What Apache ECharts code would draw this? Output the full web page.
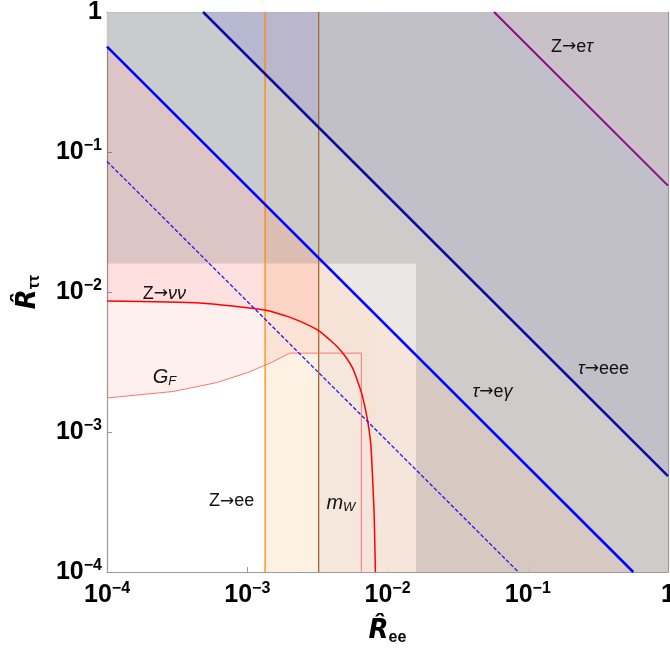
<!DOCTYPE html>
<html>
<head>
<meta charset="utf-8">
<script src="https://cdn.jsdelivr.net/npm/echarts@6/dist/echarts.min.js"></script>
<style>
html, body { margin: 0; padding: 0; background: #fff; }
#graph1 { width: 670px; height: 656px; }
</style>
</head>
<body>
<div id="graph1"></div>
<script>
// log-log plane, both axes 1e-4 .. 1
var axisMin = 1e-4, axisMax = 1;

// boundaries, as [R_ee, R_tautau]
var zNuNu = [[1e-4, 8.63e-3], [4.6e-4, 8.34e-3], [1.33e-3, 7.43e-3], [2.0e-3, 6.61e-3],
    [3.17e-3, 5.36e-3], [3.89e-3, 4.54e-3], [4.47e-3, 3.98e-3], [5.1e-3, 3.38e-3],
    [5.62e-3, 2.88e-3], [6.0e-3, 2.44e-3], [6.61e-3, 1.82e-3], [7.2e-3, 1.22e-3],
    [7.59e-3, 8.3e-4], [7.8e-3, 5.1e-4], [8.04e-3, 2.5e-4], [8.2e-3, 1e-4]];
var gF = [[1e-4, 1.75e-3], [3e-4, 1.95e-3], [6e-4, 2.25e-3], [1e-3, 2.65e-3],
    [1.5e-3, 3.15e-3], [2.01e-3, 3.66e-3], [6.51e-3, 3.66e-3], [6.51e-3, 1e-4]];
var zEtau = [[0.0575, 1], [1, 0.0575]];
var tauEee = [[4.84e-4, 1], [1, 4.84e-4]];
var tauEgamma = [[1e-4, 0.565], [0.565, 1e-4]];
var tauEgammaDashed = [[1e-4, 0.0857], [0.0857, 1e-4]];
var zEeLow = 1.34e-3;
var zEeHigh = 3.23e-3;
var squareEdge = 0.016;

// annotation texts and where they sit (data coords)
var labelTexts = ['{t|Z}{a|→}{t|e}{g|τ}', '{g|τ}{a|→}{t|eee}', '{g|τ}{a|→}{t|e}{g|γ}', '{t|Z}{a|→}{g|νν}',
    '{i|G}{sub|F}', '{t|Z}{a|→}{t|ee}', '{i|m}{sub|W}'];
var labelX = [0.207, 0.347, 0.0561, 2.57e-4, 2.57e-4, 7.73e-4, 4.65e-3];
var labelY = [0.562, 2.82e-3, 1.93e-3, 9.7e-3, 2.47e-3, 3.21e-4, 3.11e-4];

// ---- shaded regions, built from the boundaries ----
var cEgamma = tauEgamma[0][0] * tauEgamma[0][1];
var cEee = tauEee[0][0] * tauEee[0][1];
var regions = [
    [gF.concat([[1, 1e-4], [1, 1], [1e-4, 1]]), 'rgba(255,0,0,0.06)'],
    [zNuNu.concat([[zNuNu[zNuNu.length - 1][0], 1], [1e-4, 1]]), 'rgba(255,0,0,0.065)'],
    [[[zEeLow, 1e-4], [1, 1e-4], [1, 1], [zEeLow, 1]], 'rgba(240,128,0,0.11)'],
    [[[zEeHigh, 1e-4], [1, 1e-4], [1, 1], [zEeHigh, 1]], 'rgba(245,229,219,0.85)'],
    [tauEgamma.concat([[1, 1e-4], [1, 1], [1e-4, 1]]), 'rgba(233,232,232,0.9)'],
    [[[1e-4, squareEdge], [squareEdge, squareEdge], [squareEdge, 1e-4], [1, 1e-4], [1, 1], [1e-4, 1]], 'rgba(100,100,100,0.21)'],
    [[[1e-4, tauEgamma[0][1]], [zEeLow, cEgamma / zEeLow], [zEeLow, 1], [1e-4, 1]], 'rgba(150,220,255,0.08)'],
    [tauEee.concat([[1, 1]]), 'rgba(88,88,177,0.1)'],
    [[[tauEee[0][0], 1], [zEeHigh, cEee / zEeHigh], [zEeHigh, 1]], 'rgba(100,100,255,0.08)'],
    [zEtau.concat([[1, 1]]), 'rgba(240,200,200,0.2)']
];

function regionSeries(pts, color) {
    return {
        type: 'custom',
        silent: true,
        data: [pts[0]],
        renderItem: function (params, api) {
            return {
                type: 'polygon',
                shape: { points: pts.map(function (p) { return api.coord(p); }) },
                style: { fill: color }
            };
        }
    };
}

function lineSeries(data, color, width, type, smooth) {
    return {
        type: 'line',
        data: data,
        showSymbol: false,
        silent: true,
        smooth: smooth || false,
        lineStyle: { color: color, width: width, type: type || 'solid' }
    };
}

var series = [];
regions.forEach(function (r) { series.push(regionSeries(r[0], r[1])); });
series.push(lineSeries([[zEeLow, 1e-4], [zEeLow, 1]], '#ff8a00', 1.3));
series.push(lineSeries([[zEeHigh, 1e-4], [zEeHigh, 1]], '#a8682e', 1.3));
series.push(lineSeries(gF, '#ff7474', 1));
series.push(lineSeries(zNuNu, '#ff0000', 1.5, 'solid', 0.2));
series.push(lineSeries(tauEgammaDashed, '#1a1aee', 1.3, [4, 2]));
series.push(lineSeries(tauEgamma, '#0000ff', 2.5));
series.push(lineSeries(tauEee, '#0a0aa0', 2.5));
series.push(lineSeries(zEtau, '#8a0a8a', 2));

var labelData = labelX.map(function (x, i) { return [x, labelY[i]]; });
series.push({
    type: 'custom',
    silent: true,
    data: labelData,
    renderItem: function (params, api) {
        var p = api.coord([api.value(0), api.value(1)]);
        return {
            type: 'text',
            x: p[0], y: p[1],
            style: {
                text: labelTexts[params.dataIndex],
                align: 'center', verticalAlign: 'middle',
                fill: '#111',
                rich: {
                    t: { fontSize: 18, fontFamily: 'Liberation Sans', lineHeight: 22, fill: '#111' },
                    g: { fontSize: 18, fontStyle: 'italic', fontFamily: 'Liberation Sans', lineHeight: 22, fill: '#111' },
                    a: { fontSize: 17, fontFamily: 'DejaVu Sans', lineHeight: 22, fill: '#111' },
                    i: { fontSize: 20, fontStyle: 'italic', fontFamily: 'Liberation Sans', lineHeight: 22, fill: '#111' },
                    sub: { fontSize: 13, fontStyle: 'italic', fontFamily: 'Liberation Sans', lineHeight: 12, verticalAlign: 'bottom', fill: '#111' }
                }
            }
        };
    }
});

var tickRich = {
    b: { fontSize: 25, fontWeight: 'bold', fontFamily: 'Liberation Sans', color: '#000', lineHeight: 28, verticalAlign: 'middle' },
    s: { fontSize: 16, fontWeight: 'bold', fontFamily: 'Liberation Sans', color: '#000', lineHeight: 16, verticalAlign: 'top' }
};
function tickFormatter(v) {
    var e = Math.round(Math.log(v) / Math.LN10);
    return e === 0 ? '{b|1}' : '{b|10}{s|−' + (-e) + '}';
}

function makeAxis(pos, showLabel, name, nameGap) {
    return {
        type: 'log',
        logBase: 10,
        min: axisMin,
        max: axisMax,
        position: pos,
        name: name,
        nameLocation: 'middle',
        nameGap: nameGap,
        nameTextStyle: {
            rich: {
                r: { fontSize: 26, fontWeight: 'bold', fontStyle: 'italic', fontFamily: 'DejaVu Sans', color: '#000', lineHeight: 30 },
                s: { fontSize: 16, fontWeight: 'bold', fontFamily: 'Liberation Sans', color: '#000', lineHeight: 14, verticalAlign: 'bottom' }
            }
        },
        axisLine: { show: true, onZero: false, lineStyle: { color: '#9a9a9a', width: 1.2 } },
        axisTick: { show: true, inside: true, length: 5, lineStyle: { color: '#9a9a9a' } },
        axisLabel: {
            show: showLabel,
            margin: pos === 'bottom' ? 9 : 5,
            formatter: tickFormatter,
            rich: tickRich,
            showMinLabel: true,
            showMaxLabel: true,
            hideOverlap: false
        },
        splitLine: { show: false },
        minorTick: { show: false }
    };
}

var myChart = echarts.init(document.getElementById('graph1'), null, { renderer: 'canvas' });
var option = {
    animation: false,
    backgroundColor: '#fff',
    grid: { left: 107, right: 2, top: 12, bottom: 84, outerBoundsMode: 'none', containLabel: false },
    xAxis: [
        makeAxis('bottom', true, '{r|R\u0302}{s|ee}', 44),
        makeAxis('top', false, '', 0)
    ],
    yAxis: [
        makeAxis('left', true, '{r|R\u0302}{s|ττ}', 64),
        makeAxis('right', false, '', 0)
    ],
    series: series
};
if (option && typeof option === 'object') {
    myChart.setOption(option, true);
}
</script>
</body>
</html>
